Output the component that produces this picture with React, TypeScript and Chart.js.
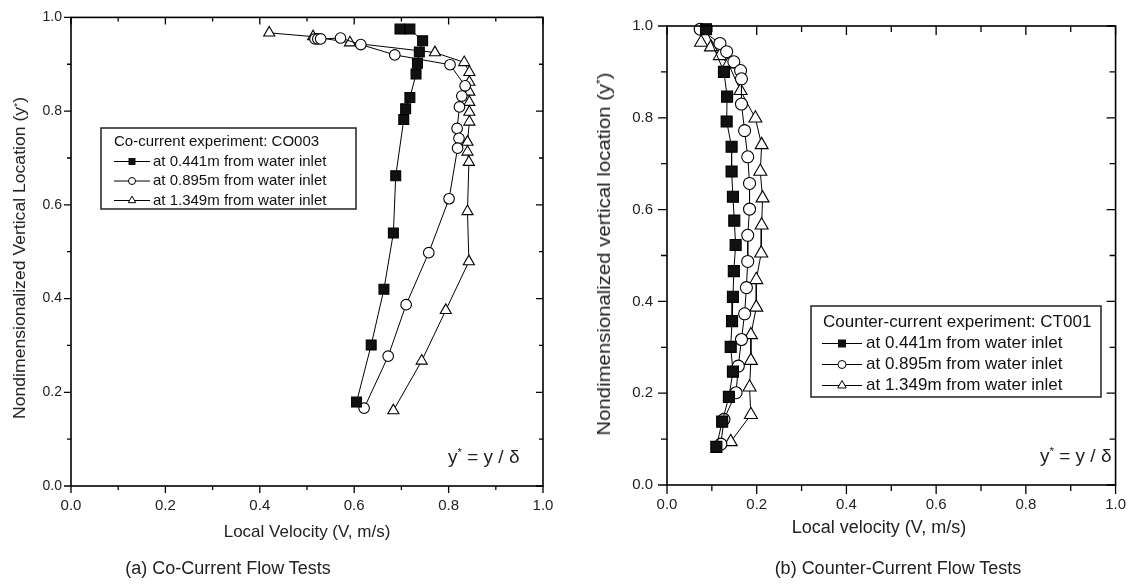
import React, { useEffect, useRef } from 'react';
import { Chart, registerables } from 'chart.js';

Chart.register(...registerables);

const FONT = '"Liberation Sans", Arial, Helvetica, sans-serif';

// ---------- Panel (a): Co-current experiment CO003 ----------
const coV441 = [0.697, 0.718, 0.745, 0.738, 0.734, 0.731, 0.718, 0.709, 0.705, 0.688, 0.683, 0.663, 0.636, 0.605];
const coY441 = [0.975, 0.975, 0.950, 0.926, 0.902, 0.879, 0.829, 0.805, 0.782, 0.662, 0.540, 0.420, 0.301, 0.179];

const coV895 = [0.517, 0.523, 0.529, 0.571, 0.614, 0.686, 0.803, 0.835, 0.828, 0.823, 0.818, 0.822, 0.819, 0.801, 0.758, 0.710, 0.672, 0.621];
const coY895 = [0.954, 0.954, 0.954, 0.956, 0.942, 0.920, 0.899, 0.854, 0.832, 0.809, 0.763, 0.742, 0.721, 0.613, 0.498, 0.387, 0.277, 0.166];

const coV1349 = [0.420, 0.513, 0.591, 0.771, 0.833, 0.844, 0.844, 0.844, 0.844, 0.844, 0.844, 0.840, 0.840, 0.843, 0.840, 0.843, 0.794, 0.743, 0.683];
const coY1349 = [0.967, 0.959, 0.946, 0.925, 0.904, 0.883, 0.862, 0.841, 0.819, 0.798, 0.777, 0.734, 0.713, 0.691, 0.586, 0.479, 0.375, 0.267, 0.161];

// ---------- Panel (b): Counter-current experiment CT001 ----------
const ctV441 = [0.087, 0.127, 0.134, 0.133, 0.144, 0.144, 0.147, 0.150, 0.153, 0.149, 0.147, 0.145, 0.142, 0.147, 0.138, 0.123, 0.110];
const ctY441 = [0.993, 0.900, 0.846, 0.792, 0.737, 0.683, 0.628, 0.576, 0.523, 0.466, 0.410, 0.357, 0.301, 0.247, 0.192, 0.138, 0.083];

const ctV895 = [0.074, 0.118, 0.133, 0.149, 0.164, 0.166, 0.166, 0.173, 0.180, 0.184, 0.184, 0.180, 0.180, 0.177, 0.173, 0.166, 0.159, 0.154, 0.127, 0.120];
const ctY895 = [0.993, 0.962, 0.944, 0.922, 0.903, 0.885, 0.830, 0.772, 0.715, 0.657, 0.601, 0.544, 0.487, 0.430, 0.373, 0.317, 0.259, 0.201, 0.143, 0.089];

const ctV1349 = [0.076, 0.098, 0.118, 0.137, 0.164, 0.197, 0.211, 0.208, 0.213, 0.211, 0.210, 0.199, 0.199, 0.187, 0.187, 0.184, 0.187, 0.142];
const ctY1349 = [0.964, 0.954, 0.935, 0.917, 0.859, 0.799, 0.741, 0.683, 0.625, 0.566, 0.505, 0.447, 0.387, 0.327, 0.271, 0.213, 0.153, 0.094];

// ---------- Labels ----------
const seriesLabels = ['at 0.441m from water inlet', 'at 0.895m from water inlet', 'at 1.349m from water inlet'];
const legendTitleA = 'Co-current experiment: CO003';
const legendTitleB = 'Counter-current experiment: CT001';
const axisMin = 0;
const axisMax = 1;
const tickStep = 0.1;

type PanelCfg = {
  width: number;
  height: number;
  left: number;
  padTop: number;
  padRight: number;
  yWidth: number;
  xHeight: number;
  tickFontX: number;
  tickFontY: number;
  tickPadX: number;
  tickPadY: number;
  majorLen: number;
  minorLen: number;
  markR: { rect: number; circle: number; tri: number };
  legend: {
    x: number; y: number; w: number; h: number;
    titleX: number; titleY: number; rowsY: number[];
    lineX1: number; lineX2: number; textX: number;
    font: number; title: string; mark: number;
  };
  series: { v: number[]; y: number[] }[];
};

function makeFramePlugin(cfg: PanelCfg) {
  return {
    id: 'frameAndLegend',
    afterDatasetsDraw(chart: any) {
      const { ctx, chartArea: a, scales } = chart;
      const xs = scales.x;
      const ys = scales.y;
      ctx.save();
      ctx.strokeStyle = '#000';
      ctx.lineWidth = 1.6;
      ctx.strokeRect(a.left, a.top, a.right - a.left, a.bottom - a.top);
      ctx.lineWidth = 1.3;
      const n = Math.round((axisMax - axisMin) / tickStep);
      ctx.beginPath();
      for (let i = 0; i <= n; i++) {
        const v = axisMin + i * tickStep;
        const len = i % 2 === 0 ? cfg.majorLen : cfg.minorLen;
        const px = xs.getPixelForValue(v);
        const py = ys.getPixelForValue(v);
        ctx.moveTo(px, a.bottom); ctx.lineTo(px, a.bottom + len);
        ctx.moveTo(px, a.top); ctx.lineTo(px, a.top + len);
        ctx.moveTo(a.left, py); ctx.lineTo(a.left - len, py);
        ctx.moveTo(a.right, py); ctx.lineTo(a.right - len, py);
      }
      ctx.stroke();

      // legend
      const L = cfg.legend;
      ctx.fillStyle = '#fff';
      ctx.fillRect(L.x, L.y, L.w, L.h);
      ctx.strokeStyle = '#222';
      ctx.lineWidth = 1.5;
      ctx.strokeRect(L.x, L.y, L.w, L.h);
      ctx.fillStyle = '#111';
      ctx.font = `${L.font}px ${FONT}`;
      ctx.textBaseline = 'middle';
      ctx.textAlign = 'left';
      ctx.fillText(L.title, L.titleX, L.titleY);
      const mx = (L.lineX1 + L.lineX2) / 2;
      L.rowsY.forEach((ry, i) => {
        ctx.strokeStyle = '#000';
        ctx.lineWidth = 1;
        ctx.beginPath();
        ctx.moveTo(L.lineX1, ry); ctx.lineTo(L.lineX2, ry);
        ctx.stroke();
        const m = L.mark;
        ctx.lineWidth = 1;
        ctx.beginPath();
        if (i === 0) {
          ctx.fillStyle = '#111';
          ctx.fillRect(mx - m / 2, ry - m / 2, m, m);
        } else if (i === 1) {
          ctx.fillStyle = '#fff';
          ctx.arc(mx, ry, m / 2, 0, Math.PI * 2);
          ctx.fill();
          ctx.stroke();
        } else {
          ctx.fillStyle = '#fff';
          const r = m * 0.62;
          ctx.moveTo(mx, ry - r);
          ctx.lineTo(mx + r * 0.866, ry + r * 0.5);
          ctx.lineTo(mx - r * 0.866, ry + r * 0.5);
          ctx.closePath();
          ctx.fill();
          ctx.stroke();
        }
        ctx.fillStyle = '#111';
        ctx.fillText(seriesLabels[i], L.textX, ry);
      });
      ctx.restore();
    },
  };
}

function Panel({ cfg }: { cfg: PanelCfg }) {
  const ref = useRef<HTMLCanvasElement | null>(null);
  useEffect(() => {
    if (!ref.current) return;
    const styles = ['rect', 'circle', 'triangle'];
    const radii = [cfg.markR.rect, cfg.markR.circle, cfg.markR.tri];
    const fills = ['#111', '#fff', '#fff'];
    const tickCb = (val: any) => {
      const k = Math.round(Number(val) * 10);
      return k % 2 === 0 ? (k / 10).toFixed(1) : '';
    };
    const chart = new Chart(ref.current, {
      type: 'scatter',
      data: {
        datasets: cfg.series.map((s, i) => ({
          label: seriesLabels[i],
          data: s.v.map((v, j) => ({ x: v, y: s.y[j] })),
          showLine: true,
          borderColor: '#000',
          borderWidth: 1,
          pointStyle: styles[i] as any,
          pointRadius: radii[i],
          pointBackgroundColor: fills[i],
          pointBorderColor: '#000',
          pointBorderWidth: 1.1,
          tension: 0,
          clip: false as any,
        })),
      },
      options: {
        animation: false,
        responsive: false,
        events: [],
        layout: { padding: { left: 0, top: cfg.padTop, right: cfg.padRight, bottom: 0 } },
        plugins: { legend: { display: false }, tooltip: { enabled: false } },
        scales: {
          x: {
            type: 'linear',
            min: axisMin,
            max: axisMax,
            grid: { display: false, drawTicks: false },
            border: { display: false },
            ticks: {
              stepSize: tickStep,
              autoSkip: false,
              maxRotation: 0,
              padding: cfg.tickPadX,
              color: '#222',
              font: { family: FONT, size: cfg.tickFontX },
              callback: tickCb,
            },
            afterFit: (s: any) => { s.height = cfg.xHeight; },
          },
          y: {
            type: 'linear',
            min: axisMin,
            max: axisMax,
            grid: { display: false, drawTicks: false },
            border: { display: false },
            ticks: {
              stepSize: tickStep,
              autoSkip: false,
              padding: cfg.tickPadY,
              color: '#222',
              font: { family: FONT, size: cfg.tickFontY },
              callback: tickCb,
            },
            afterFit: (s: any) => { s.width = cfg.yWidth; },
          },
        },
      },
      plugins: [makeFramePlugin(cfg)],
    });
    return () => chart.destroy();
  }, [cfg]);
  return (
    <canvas
      ref={ref}
      width={cfg.width}
      height={cfg.height}
      style={{ position: 'absolute', left: cfg.left, top: 0, width: cfg.width, height: cfg.height }}
    />
  );
}

const cfgA: PanelCfg = {
  width: 580, height: 587, left: 0,
  padTop: 14, padRight: 37, yWidth: 71, xHeight: 101,
  tickFontX: 15, tickFontY: 14, tickPadX: 11, tickPadY: 9,
  majorLen: 7, minorLen: 4,
  markR: { rect: 7, circle: 5.3, tri: 6.4 },
  legend: {
    x: 101, y: 128, w: 255, h: 81,
    titleX: 114, titleY: 142, rowsY: [161.5, 181, 200.5],
    lineX1: 114, lineX2: 150, textX: 153,
    font: 15, title: legendTitleA, mark: 7,
  },
  series: [
    { v: coV441, y: coY441 },
    { v: coV895, y: coY895 },
    { v: coV1349, y: coY1349 },
  ],
};

const cfgB: PanelCfg = {
  width: 557, height: 587, left: 580,
  padTop: 26, padRight: 14, yWidth: 87, xHeight: 102,
  tickFontX: 15, tickFontY: 15, tickPadX: 11, tickPadY: 14,
  majorLen: 9, minorLen: 6,
  markR: { rect: 7.8, circle: 6, tri: 7.5 },
  legend: {
    x: 231, y: 306, w: 290, h: 91,
    titleX: 243, titleY: 322, rowsY: [343.5, 364.5, 385.5],
    lineX1: 242, lineX2: 282, textX: 286,
    font: 17, title: legendTitleB, mark: 8,
  },
  series: [
    { v: ctV441, y: ctY441 },
    { v: ctV895, y: ctY895 },
    { v: ctV1349, y: ctY1349 },
  ],
};

const textBase: React.CSSProperties = {
  position: 'absolute',
  fontFamily: FONT,
  color: '#222',
  whiteSpace: 'nowrap',
  lineHeight: 1,
};

const sup: React.CSSProperties = { fontSize: '0.6em', verticalAlign: '0.55em', lineHeight: 0 };

export default function App() {
  return (
    <div style={{ position: 'absolute', left: 0, top: 0, width: 1137, height: 587, background: '#fff', overflow: 'hidden' }}>
      <Panel cfg={cfgA} />
      <Panel cfg={cfgB} />

      {/* Panel (a) texts */}
      <div style={{ ...textBase, fontSize: 16, left: 20, top: 258, transform: 'translate(-50%, -50%) rotate(-90deg) scale(1.1, 1)' }}>
        Nondimensionalized Vertical Location (y<span style={sup}>*</span>)
      </div>
      <div style={{ ...textBase, fontSize: 17, left: 307, top: 531, transform: 'translate(-50%, -50%)' }}>
        Local Velocity (V, m/s)
      </div>
      <div style={{ ...textBase, fontSize: 19, left: 448, top: 456, transform: 'translate(0, -50%)' }}>
        y<span style={sup}>*</span> = y / δ
      </div>
      <div style={{ ...textBase, fontSize: 18, left: 228, top: 568, transform: 'translate(-50%, -50%)' }}>
        (a) Co-Current Flow Tests
      </div>

      {/* Panel (b) texts */}
      <div style={{ ...textBase, fontSize: 18, left: 604, top: 254, transform: 'translate(-50%, -50%) rotate(-90deg) scale(1.13, 1)' }}>
        Nondimensionalized vertical location (y<span style={sup}>*</span>)
      </div>
      <div style={{ ...textBase, fontSize: 18, left: 879, top: 527, transform: 'translate(-50%, -50%)' }}>
        Local velocity (V, m/s)
      </div>
      <div style={{ ...textBase, fontSize: 19, left: 1040, top: 455, transform: 'translate(0, -50%)' }}>
        y<span style={sup}>*</span> = y / δ
      </div>
      <div style={{ ...textBase, fontSize: 18, left: 898, top: 568, transform: 'translate(-50%, -50%)' }}>
        (b) Counter-Current Flow Tests
      </div>
    </div>
  );
}
